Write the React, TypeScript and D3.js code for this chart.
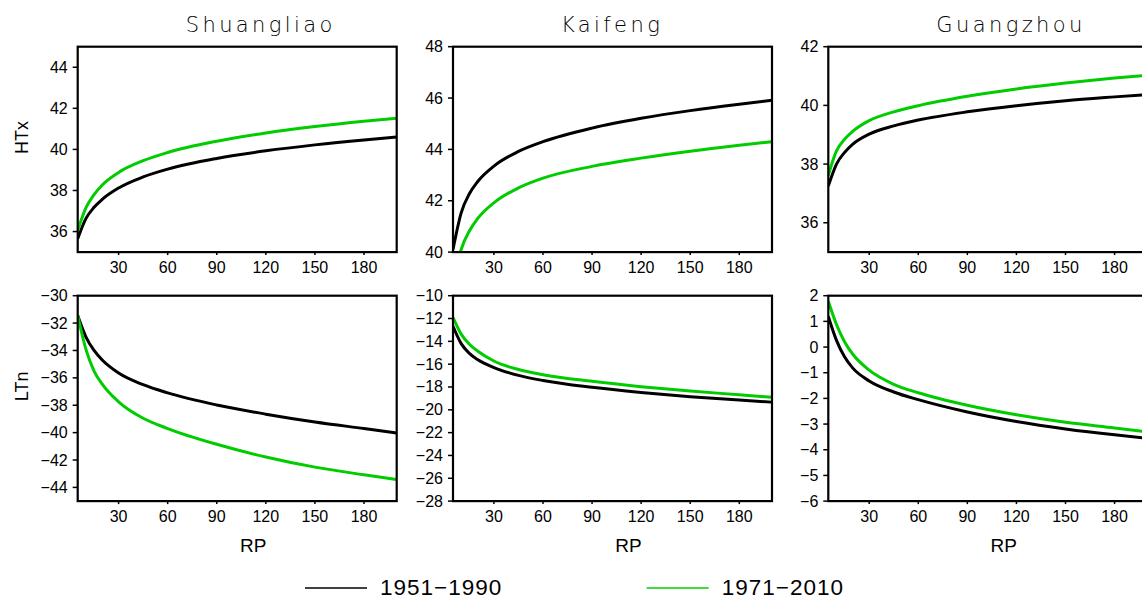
import React from 'react';
import * as d3 from 'd3';

const RP = [5, 10, 15, 20, 30, 45, 60, 90, 120, 150, 180, 200];

const shuangliaoHTx1951 = [35.65, 36.63, 37.18, 37.57, 38.12, 38.66, 39.04, 39.56, 39.93, 40.22, 40.46, 40.6];
const shuangliaoHTx1971 = [36.05, 37.15, 37.8, 38.27, 38.88, 39.45, 39.85, 40.4, 40.8, 41.11, 41.37, 41.52];
const kaifengHTx1951 = [40.1, 41.53, 42.27, 42.74, 43.35, 43.92, 44.3, 44.83, 45.21, 45.51, 45.76, 45.91];
const kaifengHTx1971 = [38.7, 40.1, 40.82, 41.3, 41.92, 42.5, 42.88, 43.34, 43.66, 43.93, 44.16, 44.3];
const guangzhouHTx1951 = [37.25, 38.0, 38.4, 38.68, 39.02, 39.3, 39.5, 39.78, 39.99, 40.16, 40.29, 40.37];
const guangzhouHTx1971 = [37.62, 38.45, 38.85, 39.12, 39.48, 39.78, 39.99, 40.31, 40.56, 40.76, 40.93, 41.03];

const shuangliaoLTn1951 = [-31.45, -33.0, -34.0, -34.7, -35.65, -36.5, -37.1, -37.98, -38.65, -39.22, -39.7, -40.02];
const shuangliaoLTn1971 = [-31.45, -33.9, -35.5, -36.46, -37.75, -38.95, -39.7, -40.85, -41.78, -42.52, -43.08, -43.42];
const kaifengLTn1951 = [-12.68, -14.2, -15.05, -15.6, -16.3, -16.98, -17.43, -18.03, -18.48, -18.85, -19.15, -19.33];
const kaifengLTn1971 = [-11.9, -13.37, -14.25, -14.84, -15.72, -16.47, -16.92, -17.5, -17.97, -18.36, -18.68, -18.9];
const guangzhouLTn1951 = [1.19, 0.26, -0.39, -0.82, -1.32, -1.75, -2.05, -2.53, -2.9, -3.19, -3.42, -3.55];
const guangzhouLTn1971 = [1.78, 0.88, 0.2, -0.28, -0.9, -1.45, -1.78, -2.27, -2.64, -2.93, -3.15, -3.3];

const stations = ['Shuangliao', 'Kaifeng', 'Guangzhou'];
const variables = ['HTx', 'LTn'];
const periods = ['1951\u22121990', '1971\u22122010'];
const colors = ['#000000', '#00cc00'];
const xTicks = [30, 60, 90, 120, 150, 180];
const xDomain = [5, 200];

const yDomains = [
  [[35, 45], [40, 48], [35, 42]],
  [[-45, -30], [-28, -10], [-6, 2]],
];
const yTicks = [
  [[36, 38, 40, 42, 44], [40, 42, 44, 46, 48], [36, 38, 40, 42]],
  [[-44, -42, -40, -38, -36, -34, -32, -30], [-28, -26, -24, -22, -20, -18, -16, -14, -12, -10], [-6, -5, -4, -3, -2, -1, 0, 1, 2]],
];
const seriesData = [
  [[shuangliaoHTx1951, shuangliaoHTx1971], [kaifengHTx1951, kaifengHTx1971], [guangzhouHTx1951, guangzhouHTx1971]],
  [[shuangliaoLTn1951, shuangliaoLTn1971], [kaifengLTn1951, kaifengLTn1971], [guangzhouLTn1951, guangzhouLTn1971]],
];

const W = 1142;
const H = 599;
const LEFT0 = 77.7;
const DX = 375.3;
const PW = 319;
const ROW_TOP = [46.7, 295.7];
const PH = 205.4;
const NUM_FONT = '"Liberation Sans", Arial, Helvetica, sans-serif';
const TITLE_FONT = '"DejaVu Sans", "Noto Sans", sans-serif';

const fmt = (v: number) => String(v).replace('-', '\u2212');

function Panel({ row, col }: { row: number; col: number }) {
  const left = LEFT0 + col * DX;
  const top = ROW_TOP[row];
  const x = d3.scaleLinear().domain(xDomain).range([left, left + PW]);
  const y = d3.scaleLinear().domain(yDomains[row][col]).range([top + PH, top]);
  const line = d3
    .line<number>()
    .x((_, i) => x(RP[i]))
    .y((d) => y(d))
    .curve(d3.curveMonotoneX);
  const clipId = `clip-${row}-${col}`;
  const bottom = top + PH;
  return (
    <g>
      <defs>
        <clipPath id={clipId}>
          <rect x={left} y={top} width={PW} height={PH} />
        </clipPath>
      </defs>
      <g clipPath={`url(#${clipId})`}>
        {seriesData[row][col].map((s, k) => (
          <path key={k} d={line(s) || ''} fill="none" stroke={colors[k]} strokeWidth={3} strokeLinejoin="round" />
        ))}
      </g>
      <rect x={left} y={top} width={PW} height={PH} fill="none" stroke="#000" strokeWidth={2.2} />
      {yTicks[row][col].map((t) => (
        <g key={t}>
          <line x1={left - 5} x2={left} y1={y(t)} y2={y(t)} stroke="#000" strokeWidth={1.5} />
          <text x={left - 10} y={y(t)} textAnchor="end" dominantBaseline="central" fontFamily={NUM_FONT} fontSize={16} fill="#000">
            {fmt(t)}
          </text>
        </g>
      ))}
      {xTicks.map((t) => (
        <g key={t}>
          <line x1={x(t)} x2={x(t)} y1={bottom} y2={bottom + 3} stroke="#000" strokeWidth={1.5} />
          <text x={x(t)} y={bottom + 20.5} textAnchor="middle" fontFamily={NUM_FONT} fontSize={16} fill="#000">
            {t}
          </text>
        </g>
      ))}
      {row === 0 && (
        <text x={left + 108} y={32} fontFamily={TITLE_FONT} fontWeight={300} fontSize={21} letterSpacing={3.4} fill="#000">
          {stations[col]}
        </text>
      )}
      {row === 1 && (
        <text x={left + 175.5} y={551.5} textAnchor="middle" fontFamily={NUM_FONT} fontSize={19} fill="#000">
          RP
        </text>
      )}
      {col === 0 && (
        <text
          transform={`translate(21.7, ${top + PH / 2 - 12}) rotate(-90)`}
          textAnchor="middle"
          dominantBaseline="central"
          fontFamily={NUM_FONT}
          fontSize={18}
          fill="#000"
        >
          {variables[row]}
        </text>
      )}
    </g>
  );
}

export default function App() {
  const legendX = [305, 646.7];
  return (
    <svg width={W} height={H} style={{ position: 'absolute', left: 0, top: 0, background: '#fff' }}>
      <rect x={0} y={0} width={W} height={H} fill="#fff" />
      {[0, 1].map((r) => [0, 1, 2].map((c) => <Panel key={`${r}-${c}`} row={r} col={c} />))}
      {periods.map((p, k) => (
        <g key={p}>
          <line x1={legendX[k]} x2={legendX[k] + 62} y1={588} y2={588} stroke={colors[k]} strokeWidth={1.5} />
          <text x={legendX[k] + 75} y={595} fontFamily={NUM_FONT} fontSize={22.5} letterSpacing={1} fill="#000">
            {p}
          </text>
        </g>
      ))}
    </svg>
  );
}
